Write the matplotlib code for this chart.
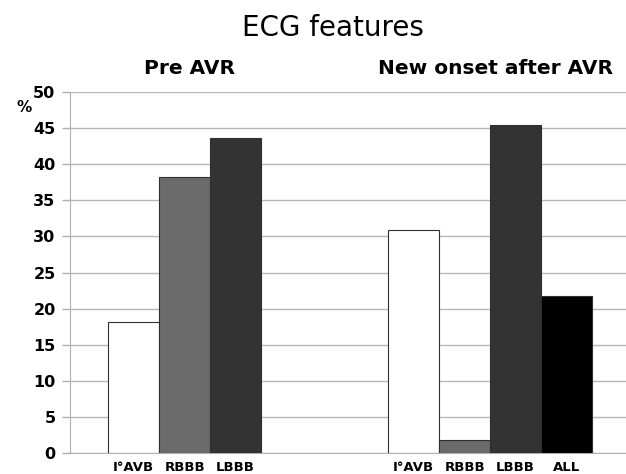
import numpy as np
import matplotlib.pyplot as plt

groups = ["Pre AVR", "New onset after AVR"]
series = ["I°AVB", "RBBB", "LBBB", "ALL"]
pre_vals = [18.2, 38.2, 43.6, np.nan]
post_vals = [30.9, 1.8, 45.4, 21.8]
colors = ["#ffffff", "#6b6b6b", "#333333", "#000000"]

fig = plt.figure(figsize=(6.26, 4.74), dpi=100)
ax = fig.add_axes([0.112, 0.044, 0.888, 0.762])

# Excel-style clustered bars: 4 bars + 1.5 bar gap per group
w = 1 / 5.5
vals = np.array([pre_vals, post_vals])
tick_pos, tick_lab = [], []
for j, name in enumerate(series):
    xs = np.arange(len(groups)) + (j - 1.5) * w
    ax.bar(xs, vals[:, j], width=w, color=colors[j], edgecolor="#303030",
           linewidth=0.8, zorder=3)
    for i, x in enumerate(xs):
        if not np.isnan(vals[i, j]):
            tick_pos.append(x)
            tick_lab.append(name)

ax.set_xlim(-0.5, -0.5 + 556 / 280)
ax.set_ylim(0, 50)
ax.set_yticks(range(0, 51, 5))
ax.set_xticks(tick_pos)
ax.set_xticklabels(tick_lab, fontsize=9.5, fontweight="bold")
ax.tick_params(axis="x", length=0, pad=6)
ax.tick_params(axis="y", length=5.5, width=1, color="#b0b0b0", labelsize=11.5, pad=5)
for lab in ax.get_yticklabels():
    lab.set_fontweight("bold")
ax.grid(axis="y", color="#b8b8b8", linewidth=1, zorder=0)
for s in ["top", "right"]:
    ax.spines[s].set_visible(False)
ax.spines["left"].set_color("#b0b0b0")
ax.spines["bottom"].set_color("#b0b0b0")

fig.text(0.532, 0.94, "ECG features", ha="center", va="center", fontsize=20)
fig.text(0.302, 0.855, groups[0], ha="center", va="center", fontsize=14.5, fontweight="bold")
fig.text(0.791, 0.855, groups[1], ha="center", va="center", fontsize=14.5, fontweight="bold")
fig.text(0.038, 0.774, "%", ha="center", va="center", fontsize=11, fontweight="bold")

fig.savefig("out.png", dpi=100)
